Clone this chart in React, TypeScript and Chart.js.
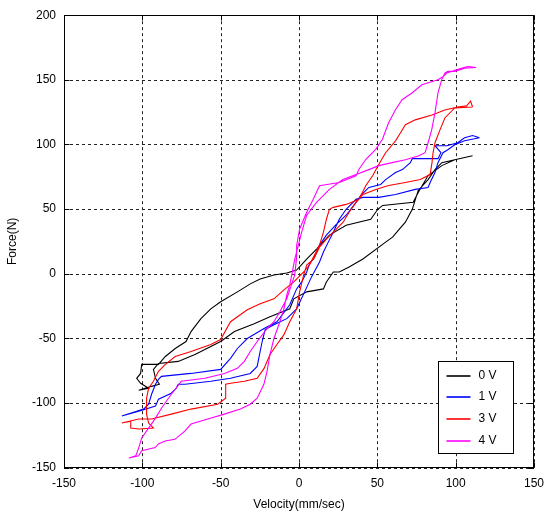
import React, { useEffect, useRef } from "react";
import { Chart, registerables } from "chart.js";

Chart.register(...registerables);

const seriesLabels = ["0 V", "1 V", "3 V", "4 V"];
const seriesColors = ["#000000", "#0000ff", "#ff0000", "#ff00ff"];
const xTicks = [-150, -100, -50, 0, 50, 100, 150];
const yTicks = [-150, -100, -50, 0, 50, 100, 150, 200];

// 0 V loop
const vel0V = [110.8, 99.4, 91.2, 82.4, 76.1, 72.9, 53.4, 50.3, 45.8, 30.1, 19.4, 11.2, 4.9, -1.5, -7.8, -16.0, -24.8, -31.1, -39.3, -50.0, -56.3, -62.6, -68.9, -72.1, -79.0, -85.3, -89.7, -100.4, -101.1, -103.6, -101.1, -96.0, -102.3,
  -94.1, -89.1, -91.6, -92.9, -89.7, -77.1, -66.4, -50.0, -41.2, -28.6, -18.5, -5.9, -3.3, 4.9, 15.6, 17.5, 21.9, 25.7, 32.0, 40.8, 55.3, 59.7, 67.9, 72.3, 76.1, 82.4, 86.8, 91.2, 99.4, 110.8];
const force0V = [91.3, 88.2, 83.6, 75.9, 62.8, 55.2, 52.8, 49.8, 42.1, 37.5, 29.8, 19.0, 11.3, 2.8, 0.5, -1.0, -4.1, -7.9, -14.1, -21.8, -27.2, -34.8, -44.8, -52.5, -57.9, -64.1, -70.2, -70.2, -77.2, -81.0, -84.8, -88.7, -90.2,
  -87.2, -85.6, -81.0, -74.1, -69.5, -67.9, -62.5, -52.5, -44.8, -38.7, -33.3, -27.2, -19.5, -14.1, -11.8, -6.4, 1.3, 1.3, 5.2, 11.3, 24.4, 28.2, 39.8, 49.8, 64.4, 72.8, 80.5, 85.9, 88.2, 91.3];

// 1 V loop
const vel1V = [115.2, 110.8, 105.7, 101.3, 94.4, 86.8, 90.6, 88.7, 72.3, 71.1, 66.0, 61.6, 55.3, 52.1, 44.6, 39.5, 36.4, 30.1, 23.8, 17.5, 13.1, 9.9, 6.7, 4.9, 1.7, -1.5, -5.9, -14.1, -22.3, -33.0, -39.3, -43.7, -50.0, -68.9, -87.8, -89.7, -91.6, -94.1, -96.0, -99.2, -113.1,
  -102.3, -91.6, -89.7, -81.5, -78.4, -77.1, -72.7, -56.3, -43.7, -31.1, -26.7, -24.8, -23.5, -21.6, -16.0, -7.8, -1.5, 3.6, 8.0, 13.1, 15.6, 18.7, 21.9, 25.7, 30.1, 36.4, 40.8, 50.9, 61.6, 74.2, 82.4, 83.7, 86.8, 88.7, 91.9, 95.0, 99.4, 105.7, 115.2];
const force1V = [105.2, 106.9, 105.2, 101.3, 99.0, 99.0, 93.6, 89.0, 89.0, 85.9, 80.5, 78.2, 72.8, 69.0, 66.7, 60.5, 55.2, 45.2, 38.2, 29.8, 22.1, 12.8, 7.5, 1.3, -6.4, -11.8, -24.1, -37.2, -42.5, -50.2, -57.9, -65.6, -74.1, -77.2, -79.5, -81.8, -85.6, -93.3, -101.0, -104.8, -110.2,
  -106.4, -102.5, -97.2, -92.5, -88.7, -85.6, -85.6, -83.3, -81.0, -77.2, -71.8, -60.2, -52.5, -43.3, -39.5, -34.8, -27.2, -14.1, -2.5, 9.0, 16.7, 24.4, 32.1, 42.1, 49.8, 57.5, 59.0, 59.0, 61.3, 65.2, 66.7, 70.5, 78.2, 85.9, 93.6, 95.9, 99.8, 102.8, 105.2];

// 3 V loop
const vel3V = [110.8, 109.5, 107.0, 101.3, 93.1, 84.9, 74.2, 67.9, 64.8, 61.6, 55.3, 50.9, 47.1, 42.7, 38.3, 30.1, 21.9, 19.4, 17.5, 15.6, 13.1, 6.7, 3.0, -3.3, -9.6, -16.0, -24.8, -33.0, -43.7, -50.0, -56.3, -68.9, -79.0, -85.3, -89.7, -92.9, -96.0, -97.3, -97.3, -96.0, -92.9, -102.3, -107.4, -107.4, -113.1,
  -102.3, -94.1, -81.5, -68.9, -51.9, -46.8, -46.8, -43.7, -34.9, -26.7, -22.3, -18.5, -14.1, -9.6, -5.9, -1.5, 0.4, 3.0, 4.9, 9.3, 13.1, 17.5, 21.9, 28.2, 32.0, 36.4, 40.8, 49.0, 57.2, 67.9, 77.4, 83.7, 84.9, 85.6, 86.8, 90.0, 93.1, 99.4, 110.8];
const force3V = [129.0, 133.6, 129.8, 129.0, 126.7, 122.8, 119.0, 115.2, 109.0, 102.8, 93.6, 84.4, 75.9, 68.2, 57.5, 53.6, 51.3, 49.8, 42.1, 32.1, 22.1, 6.7, 1.3, -6.4, -12.5, -19.5, -23.3, -27.9, -37.2, -51.0, -54.8, -60.2, -64.1, -70.2, -75.6, -83.3, -88.7, -96.4, -108.7, -115.6, -119.5, -120.2, -119.5, -114.1, -115.6,
  -112.5, -112.5, -108.7, -104.8, -101.0, -96.4, -85.6, -84.8, -83.3, -81.0, -73.3, -62.5, -54.8, -47.2, -37.2, -27.2, -14.1, -1.0, 6.7, 11.3, 20.5, 26.7, 32.1, 39.8, 47.5, 55.2, 61.3, 65.2, 68.2, 70.5, 72.8, 76.7, 85.9, 93.6, 101.3, 111.3, 120.5, 128.2, 129.0];

// 4 V loop
const vel4V = [113.1, 107.6, 103.7, 100.5, 97.3, 94.2, 92.1, 88.7, 78.4, 72.1, 65.8, 61.6, 57.2, 53.2, 49.0, 42.7, 38.3, 36.4, 25.7, 13.1, 9.1, 4.9, 0.4, -1.5, -1.5, -2.7, -5.9, -7.8, -12.2, -16.0, -20.4, -26.7, -31.1, -34.9, -39.3, -47.5, -60.1, -75.2, -78.4, -81.5, -87.8, -91.6, -96.0, -100.4, -102.3, -104.2, -108.6,
  -102.3, -100.4, -91.8, -89.7, -85.5, -79.2, -72.9, -68.9, -58.2, -47.7, -37.4, -31.1, -26.7, -22.4, -20.4, -18.5, -16.0, -12.2, -9.6, -7.8, -5.9, -4.6, -2.7, -0.4, 1.7, 4.9, 11.2, 19.4, 28.0, 36.4, 44.6, 50.9, 59.5, 67.9, 76.1, 80.5, 82.4, 84.7, 86.8, 88.7, 91.0, 93.1, 95.0, 99.4, 105.7, 113.1];
const force4V = [159.5, 160.3, 159.0, 157.7, 156.5, 155.2, 152.6, 150.0, 146.2, 139.8, 134.6, 126.9, 116.7, 103.8, 96.2, 88.5, 80.8, 75.7, 70.5, 68.0, 57.5, 47.5, 34.6, 21.8, 12.8, -1.0, -12.5, -19.5, -29.5, -37.2, -42.5, -52.5, -60.2, -67.9, -73.3, -77.2, -81.0, -83.3, -88.7, -93.3, -104.1, -111.8, -119.5, -127.1, -134.8, -141.0, -142.6,
  -141.0, -137.1, -134.6, -131.8, -129.5, -128.2, -121.8, -116.4, -112.5, -108.7, -104.8, -101.0, -96.4, -85.6, -75.6, -62.5, -50.2, -37.2, -27.2, -16.4, -8.7, -1.0, 11.3, 22.1, 32.1, 45.2, 55.2, 65.2, 72.8, 76.7, 80.5, 83.6, 85.9, 88.2, 91.1, 93.6, 101.3, 111.3, 124.4, 139.8, 149.8, 155.2, 156.5, 156.5, 159.0, 159.5];

const velocities = [vel0V, vel1V, vel3V, vel4V];
const forces = [force0V, force1V, force3V, force4V];

const FONT = "'Liberation Sans', Arial, Helvetica, sans-serif";

const framePlugin = {
  id: "matlabFrame",
  beforeDatasetsDraw(chart: any) {
    const { ctx, chartArea: a, scales } = chart;
    const x = scales.x;
    const y = scales.y;
    ctx.save();
    ctx.strokeStyle = "#222";
    ctx.lineWidth = 1;
    ctx.setLineDash([3, 3]);
    ctx.beginPath();
    for (const v of xTicks) {
      const px = Math.round(x.getPixelForValue(v)) + 0.5;
      ctx.moveTo(px, a.top);
      ctx.lineTo(px, a.bottom);
    }
    for (const v of yTicks) {
      const py = Math.round(y.getPixelForValue(v)) + 0.5;
      ctx.moveTo(a.left, py);
      ctx.lineTo(a.right, py);
    }
    ctx.stroke();
    ctx.restore();
  },
  afterDatasetsDraw(chart: any) {
    const { ctx, chartArea: a, scales } = chart;
    const x = scales.x;
    const y = scales.y;
    ctx.save();
    ctx.setLineDash([]);
    ctx.strokeStyle = "#000";
    ctx.lineWidth = 1;
    const L = Math.round(a.left) + 0.5;
    const R = Math.round(a.right) - 0.5;
    const T = Math.round(a.top) + 0.5;
    const B = Math.round(a.bottom) - 0.5;
    ctx.strokeRect(L, T, R - L, B - T);
    ctx.beginPath();
    const tk = 5;
    for (const v of xTicks) {
      const px = Math.round(x.getPixelForValue(v)) + 0.5;
      ctx.moveTo(px, B);
      ctx.lineTo(px, B - tk);
      ctx.moveTo(px, T);
      ctx.lineTo(px, T + tk);
    }
    for (const v of yTicks) {
      const py = Math.round(y.getPixelForValue(v)) + 0.5;
      ctx.moveTo(L, py);
      ctx.lineTo(L + tk, py);
      ctx.moveTo(R, py);
      ctx.lineTo(R - tk, py);
    }
    ctx.stroke();

    // legend box (lower right, inside the axes)
    const boxW = 75;
    const boxH = 92;
    const bx = Math.round(a.right - 21 - boxW) + 0.5;
    const by = Math.round(a.bottom - 14.5 - boxH) + 0.5;
    ctx.fillStyle = "#fff";
    ctx.fillRect(bx, by, boxW, boxH);
    ctx.strokeStyle = "#000";
    ctx.lineWidth = 1;
    ctx.strokeRect(bx, by, boxW, boxH);
    ctx.font = "12px " + FONT;
    ctx.textBaseline = "middle";
    ctx.textAlign = "left";
    for (let i = 0; i < seriesLabels.length; i++) {
      const ry = Math.round(by + 14 + i * 21.7);
      ctx.lineWidth = 1.6;
      ctx.strokeStyle = seriesColors[i];
      ctx.beginPath();
      ctx.moveTo(bx + 8, ry);
      ctx.lineTo(bx + 32, ry);
      ctx.stroke();
      ctx.fillStyle = "#000";
      ctx.fillText(seriesLabels[i], bx + 40, ry);
    }
    ctx.restore();
  },
};

export default function App() {
  const canvasRef = useRef<HTMLCanvasElement | null>(null);

  useEffect(() => {
    document.body.style.margin = "0";
    const canvas = canvasRef.current;
    if (!canvas) return;
    const datasets = seriesLabels.map((label, i) => ({
      label,
      data: velocities[i].map((v, j) => ({ x: v, y: forces[i][j] })),
      showLine: true,
      borderColor: seriesColors[i],
      backgroundColor: seriesColors[i],
      borderWidth: 1.1,
      pointRadius: 0,
      pointHoverRadius: 0,
      tension: 0,
      fill: false,
      order: 3 - i,
    }));

    const chart = new Chart(canvas, {
      type: "scatter",
      data: { datasets },
      options: {
        responsive: false,
        animation: false,
        devicePixelRatio: 1,
        layout: { padding: { top: 13.3, right: 12, bottom: 0, left: 0 } },
        plugins: {
          legend: { display: false },
          tooltip: { enabled: false },
        },
        events: [],
        scales: {
          x: {
            type: "linear",
            min: -150,
            max: 150,
            grid: { display: false, drawTicks: false },
            border: { display: false },
            afterFit: (s: any) => {
              s.height = 47.5;
            },
            afterBuildTicks: (s: any) => {
              s.ticks = xTicks.map((v) => ({ value: v }));
            },
            ticks: {
              padding: 9,
              autoSkip: false,
              maxRotation: 0,
              color: "#000",
              font: { size: 12, family: FONT },
            },
            title: {
              display: true,
              text: "Velocity(mm/sec)",
              color: "#000",
              font: { size: 12, family: FONT },
              padding: { top: 0, bottom: 3 },
            },
          },
          y: {
            type: "linear",
            min: -150,
            max: 200,
            grid: { display: false, drawTicks: false },
            border: { display: false },
            afterFit: (s: any) => {
              s.width = 64;
            },
            afterBuildTicks: (s: any) => {
              s.ticks = yTicks.map((v) => ({ value: v }));
            },
            ticks: {
              padding: 8,
              autoSkip: false,
              color: "#000",
              font: { size: 12, family: FONT },
            },
            title: {
              display: true,
              text: "Force(N)",
              color: "#000",
              font: { size: 12, family: FONT },
              padding: { top: 5, bottom: 0 },
            },
          },
        },
      },
      plugins: [framePlugin],
    } as any);

    return () => chart.destroy();
  }, []);

  return (
    <div style={{ width: 553, height: 515 }}>
      <canvas ref={canvasRef} width={553} height={515} style={{ display: "block", width: 553, height: 515 }} />
    </div>
  );
}
